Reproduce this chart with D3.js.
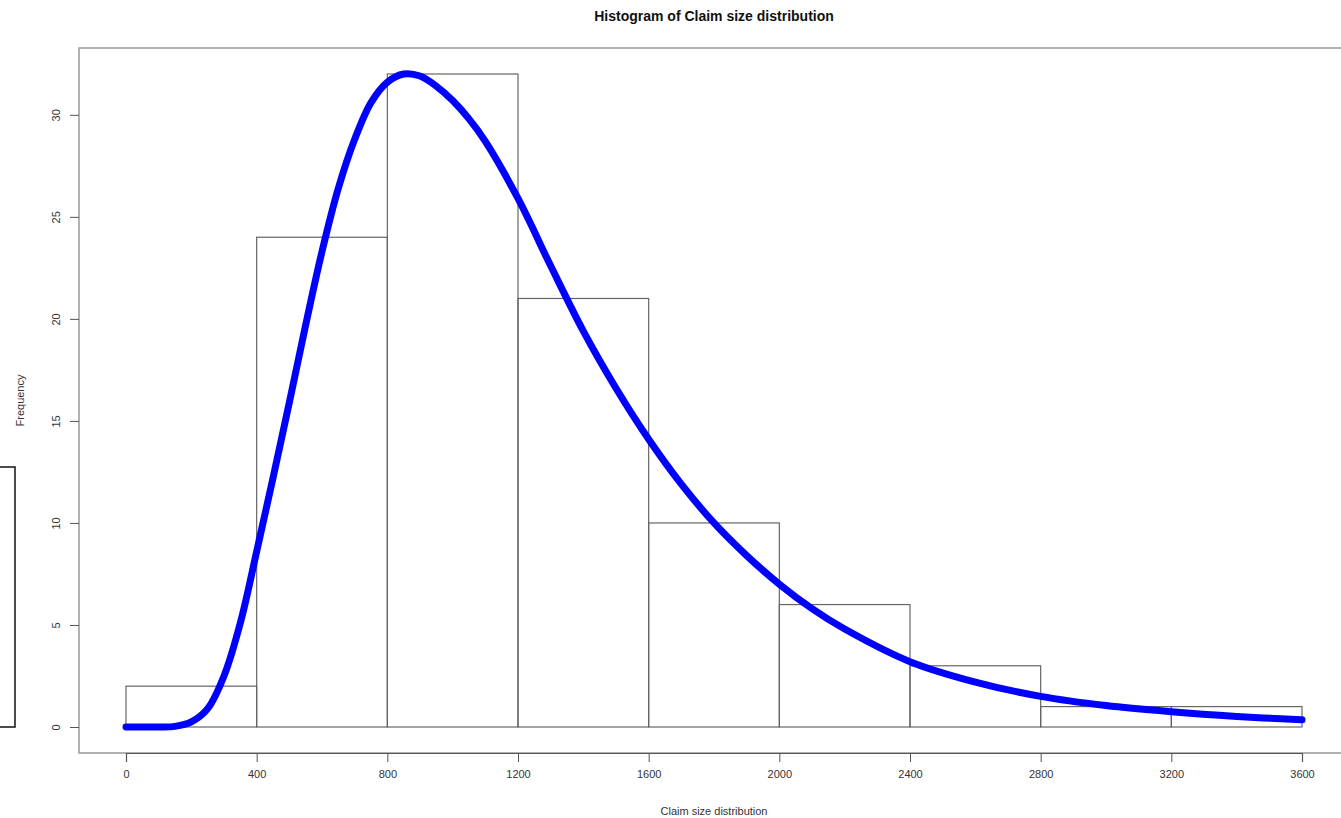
<!DOCTYPE html>
<html lang="en">
<head>
	<meta charset="UTF-8">
	<title>Histogram of Claim size distribution</title>
	<script src="https://d3js.org/d3.v7.min.js"></script>
	<style>
		body {
			margin: 0;
			background: #fff;
		}
		svg {
			display: block;
		}
		text {
			font-family: "Liberation Sans", Arial, sans-serif;
			fill: #333;
		}
	</style>
</head>
<body>
<div id="chart"></div>
<script>
	// histogram bins (claim size) and counts
	const binEdges = [0, 400, 800, 1200, 1600, 2000, 2400, 2800, 3200, 3600];
	const counts = [2, 24, 32, 21, 10, 6, 3, 1, 1];

	// fitted density curve (already scaled to frequency)
	const curveX = [0, 100, 150, 200, 250, 300, 350, 400, 450, 500, 550, 600, 650, 700, 750, 800, 850, 900, 950,
		1000, 1050, 1100, 1200, 1300, 1400, 1500, 1600, 1700, 1800, 1900, 2000, 2100, 2200, 2400, 2600, 2800, 3000, 3200, 3400, 3600];
	const curveY = [0, 0, 0.03, 0.25, 0.9, 2.5, 5.1, 8.6, 12.2, 15.9, 19.7, 23.3, 26.4, 28.8, 30.6, 31.6, 32.0, 31.9, 31.4,
		30.7, 29.8, 28.7, 25.9, 22.6, 19.4, 16.6, 14.1, 11.9, 10.0, 8.4, 7.0, 5.8, 4.8, 3.2, 2.2, 1.5, 1.05, 0.75, 0.52, 0.35];

	const xTicks = [0, 400, 800, 1200, 1600, 2000, 2400, 2800, 3200, 3600];
	const yTicks = [0, 5, 10, 15, 20, 25, 30];

	const sizeX = 1341;
	const sizeY = 818;

	// plot region (R style: 4% padding around data range)
	const plot = { left: 79, right: 1349, top: 48, bottom: 753 };

	const xScale = d3.scaleLinear()
		.domain([0, 3600])
		.range([126, 1302]);

	const yScale = d3.scaleLinear()
		.domain([0, 32])
		.range([727, 74]);

	const svg = d3.create("svg")
		.attr("width", sizeX)
		.attr("height", sizeY);

	// stray box on the left edge
	svg.append("rect")
		.attr("x", -2)
		.attr("y", 467)
		.attr("width", 17)
		.attr("height", 260)
		.attr("fill", "none")
		.attr("stroke", "#111")
		.attr("stroke-width", 1.5);

	// plot box
	svg.append("rect")
		.attr("x", plot.left)
		.attr("y", plot.top)
		.attr("width", plot.right - plot.left)
		.attr("height", plot.bottom - plot.top)
		.attr("fill", "none")
		.attr("stroke", "#999")
		.attr("stroke-width", 1.5);

	// bars
	counts.forEach((c, i) => {
		svg.append("rect")
			.attr("x", xScale(binEdges[i]))
			.attr("y", yScale(c))
			.attr("width", xScale(binEdges[i + 1]) - xScale(binEdges[i]))
			.attr("height", yScale(0) - yScale(c))
			.attr("fill", "none")
			.attr("stroke", "#666")
			.attr("stroke-width", 1.2);
	});

	// x axis
	const xAxis = svg.append("g")
		.attr("transform", `translate(0,${plot.bottom})`)
		.call(d3.axisBottom(xScale).tickValues(xTicks).tickSize(9).tickPadding(8).tickFormat(d3.format("d")));
	xAxis.select(".domain").attr("stroke", "#555").attr("stroke-width", 1.2);
	xAxis.selectAll(".tick line").attr("stroke", "#555");
	xAxis.selectAll("text")
		.style("font-size", "11px")
		.style("fill", "#333")
		.style("font-family", "'Liberation Sans', Arial, sans-serif");

	// y axis
	const yAxis = svg.append("g")
		.attr("transform", `translate(${plot.left},0)`)
		.call(d3.axisLeft(yScale).tickValues(yTicks).tickSize(9).tickPadding(0));
	yAxis.select(".domain").remove();
	yAxis.selectAll(".tick line").attr("stroke", "#555");
	yAxis.selectAll("text")
		.attr("x", -23)
		.attr("dy", 0)
		.attr("transform", "rotate(-90,-23,0)")
		.attr("text-anchor", "middle")
		.attr("dominant-baseline", "central")
		.style("font-size", "11px")
		.style("fill", "#333")
		.style("font-family", "'Liberation Sans', Arial, sans-serif");

	// fitted curve
	const line = d3.line()
		.x((d, i) => xScale(curveX[i]))
		.y(d => yScale(d))
		.curve(d3.curveCatmullRom.alpha(0.5));

	svg.append("path")
		.datum(curveY)
		.attr("d", line)
		.attr("fill", "none")
		.attr("stroke", "#0000ff")
		.attr("stroke-width", 7)
		.attr("stroke-linecap", "round")
		.attr("stroke-linejoin", "round");

	// titles
	svg.append("text")
		.attr("x", (plot.left + plot.right) / 2)
		.attr("y", 21)
		.attr("text-anchor", "middle")
		.style("font-size", "14px")
		.style("font-weight", "bold")
		.style("fill", "#111")
		.text("Histogram of Claim size distribution");

	svg.append("text")
		.attr("x", (plot.left + plot.right) / 2)
		.attr("y", 815)
		.attr("text-anchor", "middle")
		.style("font-size", "11px")
		.text("Claim size distribution");

	svg.append("text")
		.attr("transform", `translate(24,${(plot.top + plot.bottom) / 2}) rotate(-90)`)
		.attr("text-anchor", "middle")
		.style("font-size", "11px")
		.text("Frequency");

	document.getElementById("chart").append(svg.node());
</script>
</body>
</html>
